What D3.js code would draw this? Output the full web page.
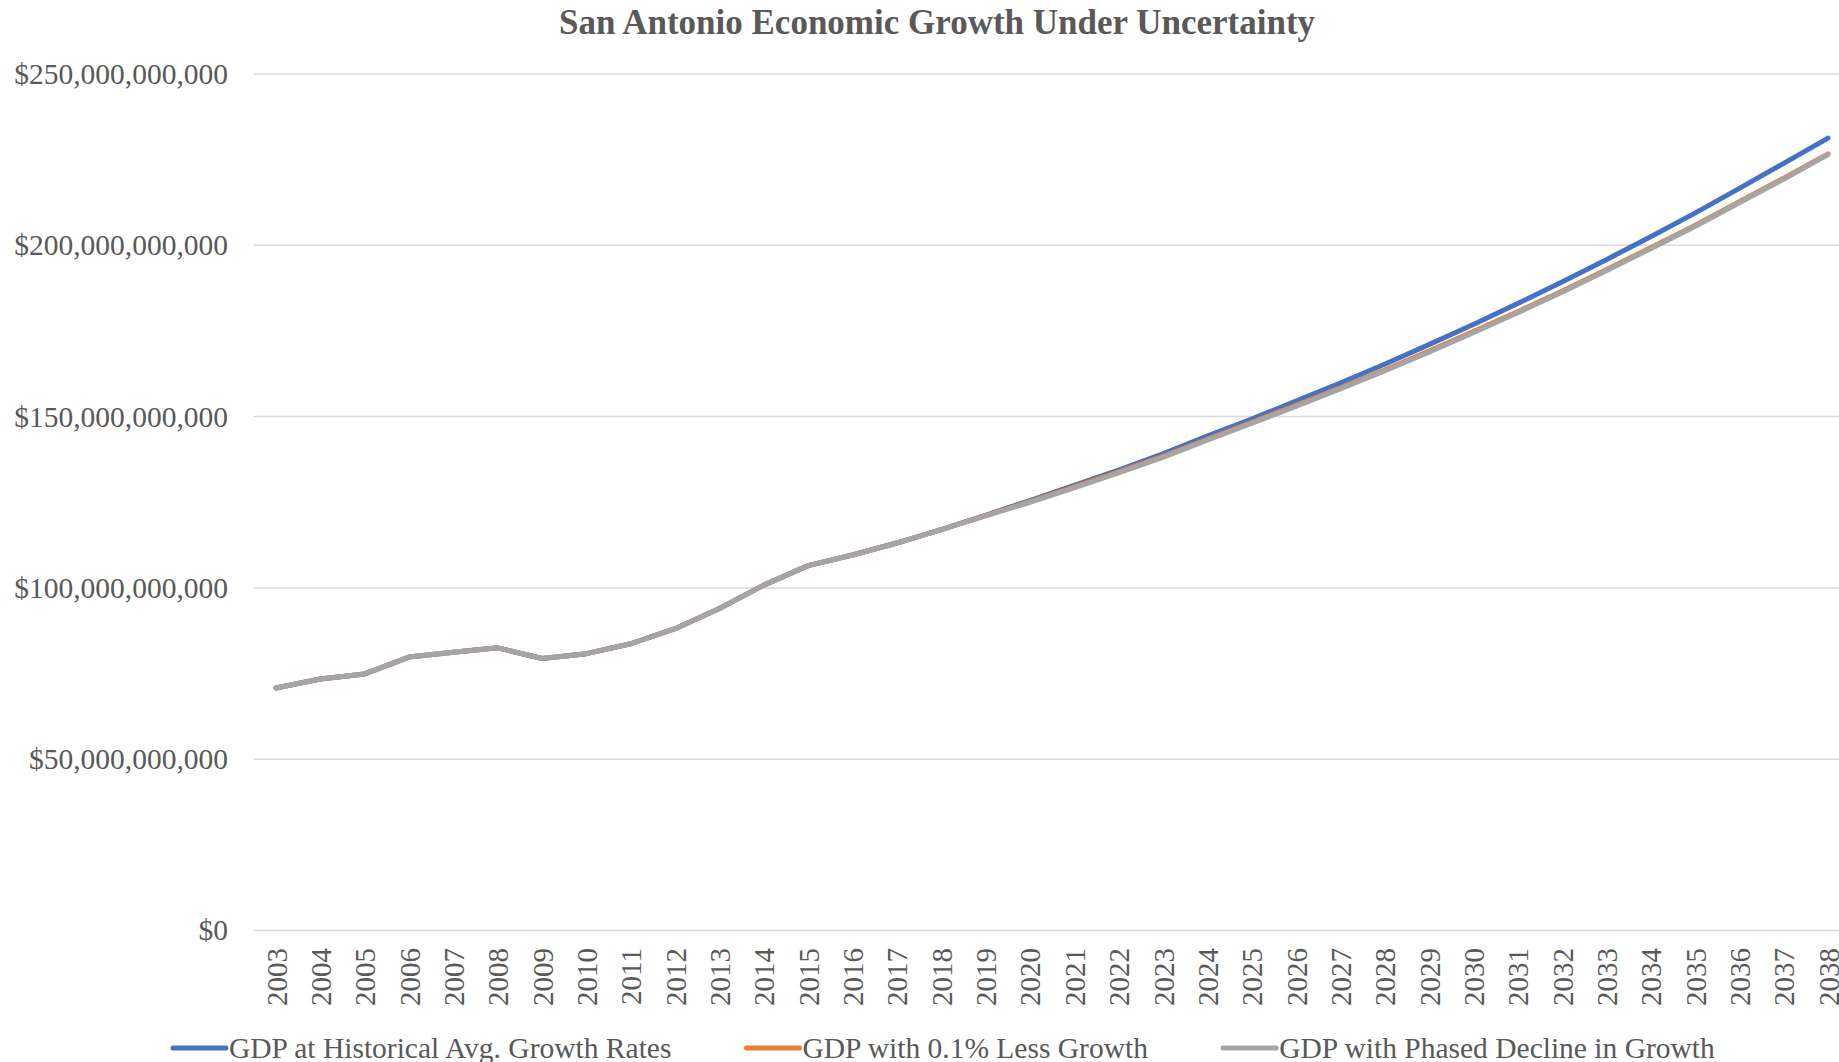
<!DOCTYPE html>
<html>
<head>
<meta charset="utf-8">
<script src="https://cdn.jsdelivr.net/npm/d3@7"></script>
<style>
  html, body { margin: 0; padding: 0; background: #fff; }
  svg { display: block; font-family: "Liberation Serif", "Times New Roman", serif; }
</style>
</head>
<body>
<div id="chart"></div>
<script>
// GDP in billions of dollars
var years = [2003, 2004, 2005, 2006, 2007, 2008, 2009, 2010, 2011, 2012, 2013, 2014,
  2015, 2016, 2017, 2018, 2019, 2020, 2021, 2022, 2023, 2024, 2025, 2026,
  2027, 2028, 2029, 2030, 2031, 2032, 2033, 2034, 2035, 2036, 2037, 2038];

var gdpHistorical = [70.8, 73.4, 74.9, 79.8, 81.2, 82.5, 79.4, 80.8, 83.7, 88.1, 94.0, 100.8,
  106.5, 109.6, 113.1, 117.0, 121.2, 125.5, 129.9, 134.4, 139.1, 144.3, 149.3, 154.5,
  159.8, 165.3, 171.0, 176.9, 183.0, 189.3, 195.8, 202.5, 209.4, 216.6, 223.9, 231.3];

var gdpLessGrowth = [70.8, 73.4, 74.9, 79.8, 81.2, 82.5, 79.4, 80.8, 83.7, 88.1, 94.0, 100.8,
  106.5, 109.6, 113.1, 117.0, 121.1, 125.2, 129.5, 133.9, 138.4, 143.4, 148.3, 153.3,
  158.4, 163.6, 169.1, 174.8, 180.6, 186.6, 192.9, 199.3, 205.8, 212.7, 219.6, 226.7];

var gdpPhasedDecline = [70.8, 73.4, 74.9, 79.8, 81.2, 82.5, 79.4, 80.8, 83.7, 88.1, 94.0, 100.8,
  106.5, 109.6, 113.1, 117.0, 121.0, 125.0, 129.2, 133.6, 138.1, 143.1, 148.0, 153.0,
  158.1, 163.3, 168.8, 174.5, 180.3, 186.3, 192.6, 199.0, 205.5, 212.4, 219.3, 226.5];

var seriesNames = ["GDP at Historical Avg. Growth Rates", "GDP with 0.1% Less Growth",
  "GDP with Phased Decline in Growth"];
var seriesColors = ["#4472C4", "#ED7D31", "#A5A5A5"];
var yTicks = [0, 50, 100, 150, 200, 250];

var title = "San Antonio Economic Growth Under Uncertainty";

var W = 1839, H = 1062;
var textColor = "#595959";

var svg = d3.select("#chart").append("svg")
  .attr("width", W)
  .attr("height", H);

var x = d3.scalePoint()
  .domain(years)
  .range([276, 1828]);

var y = d3.scaleLinear()
  .domain([0, 250])
  .range([930.5, 74]);

var gridLeft = 254, gridRight = W;

// gridlines
svg.append("g")
  .selectAll("line")
  .data(yTicks)
  .enter().append("line")
  .attr("x1", gridLeft)
  .attr("x2", gridRight)
  .attr("y1", function(d) { return y(d); })
  .attr("y2", function(d) { return y(d); })
  .attr("stroke", "#D9D9D9")
  .attr("stroke-width", 1.5);

// Y axis
var fmt = d3.format(",");
var yAxis = d3.axisLeft(y)
  .tickValues(yTicks)
  .tickSize(0)
  .tickPadding(0)
  .tickFormat(function(d) { return "$" + fmt(d * 1e9); });

svg.append("g")
  .attr("class", "y axis")
  .attr("transform", "translate(228,0)")
  .call(yAxis)
  .call(function(g) { g.select(".domain").remove(); })
  .selectAll("text")
  .attr("font-family", "Liberation Serif, Times New Roman, serif")
  .attr("font-size", 29.5)
  .attr("fill", textColor);

// X axis labels (rotated)
var xAxis = d3.axisBottom(x).tickSize(0).tickPadding(0);
svg.append("g")
  .attr("class", "x axis")
  .attr("transform", "translate(0,948)")
  .call(xAxis)
  .call(function(g) { g.select(".domain").remove(); })
  .selectAll("text")
  .attr("font-family", "Liberation Serif, Times New Roman, serif")
  .attr("font-size", 29)
  .attr("fill", textColor)
  .attr("text-anchor", "end")
  .attr("y", 0)
  .attr("dy", "0.35em")
  .attr("transform", "rotate(-90)");

// lines
var allSeries = [gdpHistorical, gdpLessGrowth, gdpPhasedDecline];
var line = d3.line()
  .x(function(d, i) { return x(years[i]); })
  .y(function(d) { return y(d); });

svg.append("g")
  .selectAll("path")
  .data(allSeries)
  .enter().append("path")
  .attr("d", line)
  .attr("fill", "none")
  .attr("stroke", function(d, i) { return seriesColors[i]; })
  .attr("stroke-width", 5)
  .attr("stroke-linecap", "round")
  .attr("stroke-linejoin", "round");

// title
svg.append("text")
  .attr("x", 937)
  .attr("y", 34)
  .attr("text-anchor", "middle")
  .attr("font-size", 35)
  .attr("font-weight", "bold")
  .attr("fill", textColor)
  .text(title);

// legend
var legend = svg.append("g").attr("class", "legend");
var items = legend.selectAll("g")
  .data(seriesNames)
  .enter().append("g");

items.append("line")
  .attr("x1", 2).attr("x2", 55)
  .attr("y1", 0).attr("y2", 0)
  .attr("stroke", function(d, i) { return seriesColors[i]; })
  .attr("stroke-width", 5)
  .attr("stroke-linecap", "round");

items.append("text")
  .attr("x", 58)
  .attr("y", 10)
  .attr("font-size", 29.5)
  .attr("fill", textColor)
  .text(function(d) { return d; });

var gap = 75, widths = [];
items.each(function() { widths.push(this.getBBox().width); });
var total = d3.sum(widths) + gap * (widths.length - 1);
var cx = 942;
var pos = cx - total / 2;
items.attr("transform", function(d, i) {
  var t = "translate(" + pos + ",1048)";
  pos += widths[i] + gap;
  return t;
});
</script>
</body>
</html>
